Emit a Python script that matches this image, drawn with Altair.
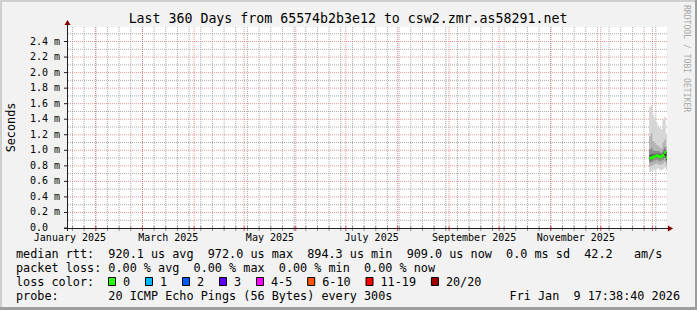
import altair as alt
import pandas as pd

# ---------------- data ----------------
TITLE = "Last 360 Days from 65574b2b3e12 to csw2.zmr.as58291.net"
START = "2025-01-14T17:38:40"
END = "2026-01-09T17:38:40"
Y_TOP = 2.587

Y_TICKS = [0.0, 0.2, 0.4, 0.6, 0.8, 1.0, 1.2, 1.4, 1.6, 1.8, 2.0, 2.2, 2.4]
Y_LABELS = ["0.0", "0.2 m", "0.4 m", "0.6 m", "0.8 m", "1.0 m", "1.2 m", "1.4 m",
            "1.6 m", "1.8 m", "2.0 m", "2.2 m", "2.4 m"]
Y_MINOR = [0.1, 0.3, 0.5, 0.7, 0.9, 1.1, 1.3, 1.5, 1.7, 1.9, 2.1, 2.3, 2.5]

MONTH_LABELS = ["January 2025", "March 2025", "May 2025", "July 2025",
                "September 2025", "November 2025"]
MONTH_LABEL_AT = ["2025-01-16T12:00:00", "2025-03-16T12:00:00", "2025-05-16T12:00:00",
                  "2025-07-16T12:00:00", "2025-09-16T00:00:00", "2025-11-16T00:00:00"]
MONTH_LINES = [d.strftime("%Y-%m-%dT00:00:00")
               for d in pd.date_range("2025-02-01", "2026-01-01", freq="MS")]
WEEK_LINES = [d.strftime("%Y-%m-%dT00:00:00")
              for d in pd.date_range("2025-01-18", "2026-01-09", freq="7D")]

SAMPLE_START = ["2025-12-30T00:00:00", "2025-12-31T00:00:00", "2026-01-01T00:00:00",
                "2026-01-02T00:00:00", "2026-01-03T00:00:00", "2026-01-04T00:00:00",
                "2026-01-05T00:00:00", "2026-01-06T00:00:00", "2026-01-07T00:00:00",
                "2026-01-08T00:00:00", "2026-01-09T00:00:00"]
# ping rtt in ms (axis unit "m")
RTT_MAX = [1.56, 1.58, 1.45, 1.42, 1.36, 1.32, 1.29, 1.27, 1.40, 1.43, 1.22]
RTT_P90 = [1.18, 1.22, 1.12, 1.10, 1.07, 1.06, 1.04, 1.02, 1.10, 1.14, 1.05]
RTT_P75 = [1.01, 1.03, 1.00, 0.99, 0.99, 0.99, 0.98, 0.97, 1.01, 1.04, 0.98]
RTT_P60 = [0.94, 0.95, 0.95, 0.95, 0.96, 0.96, 0.95, 0.95, 0.97, 1.00, 0.94]
RTT_MED = [0.898, 0.905, 0.912, 0.920, 0.931, 0.925, 0.916, 0.922, 0.938, 0.972, 0.909]
RTT_P40 = [0.87, 0.88, 0.89, 0.90, 0.91, 0.90, 0.89, 0.90, 0.91, 0.94, 0.88]
RTT_P25 = [0.84, 0.85, 0.86, 0.87, 0.88, 0.87, 0.86, 0.87, 0.88, 0.90, 0.85]
RTT_P10 = [0.79, 0.80, 0.81, 0.82, 0.83, 0.82, 0.81, 0.82, 0.83, 0.85, 0.80]
RTT_MIN = [0.72, 0.73, 0.75, 0.74, 0.76, 0.77, 0.75, 0.74, 0.76, 0.78, 0.74]

LOSS_LABELS = ["0", "1", "2", "3", "4-5", "6-10", "11-19", "20/20"]
LOSS_COLORS = ["#26ff00", "#00b8ff", "#0059ff", "#5e00ff", "#ff00ff", "#ff5500", "#ff0000", "#a00000"]

LINE_RTT = "median rtt:  920.1 us avg  972.0 us max  894.3 us min  909.0 us now  0.0 ms sd  42.2   am/s"
LINE_LOSS = "packet loss: 0.00 % avg  0.00 % max  0.00 % min  0.00 % now"
LINE_COLOR = "loss color:"
LINE_PROBE = "probe:       20 ICMP Echo Pings (56 Bytes) every 300s"
STAMP = "Fri Jan  9 17:38:40 2026"
Y_TITLE = "Seconds"
WATERMARK = "RRDTOOL / TOBI OETIKER"

# ---------------- layout / style ----------------
MONO = "DejaVu Sans Mono"
W, H = 600, 201
PL, PT = 67, 27          # plot origin on the 697x310 canvas
GRID = "#8f8f8f"
MGRID = "#de5050"
AXIS = "#202020"
ARROW = "#800000"
CW = 7.1                 # legend char width
SW = 0.02                # half-height of loss-coloured median band


def dt(s):
    ts = pd.Timestamp(s)
    return alt.DateTime(year=ts.year, month=ts.month, date=ts.day,
                        hours=ts.hour, minutes=ts.minute, seconds=ts.second)


def nb(s):
    return s.replace(" ", "\u00a0")


x_scale = alt.Scale(domain=[dt(START), dt(END)])
y_scale = alt.Scale(domain=[0, Y_TOP], nice=False, zero=False)


def X(f):
    return alt.X(f, type="temporal", scale=x_scale, axis=None)


def Y(f):
    return alt.Y(f, type="quantitative", scale=y_scale, axis=None)


ONE = pd.DataFrame({"k": [0]})
layers = []

# vertical grid: weeks (grey) then months (red)
vgrid = pd.DataFrame({
    "t": WEEK_LINES + MONTH_LINES,
    "c": [GRID] * len(WEEK_LINES) + [MGRID] * len(MONTH_LINES),
    "o": [0.75] * len(WEEK_LINES) + [0.6] * len(MONTH_LINES),
    "ord": [0] * len(WEEK_LINES) + [1] * len(MONTH_LINES),
})
hgrid = pd.DataFrame({
    "v": Y_MINOR + Y_TICKS[1:],
    "c": [GRID] * len(Y_MINOR) + [MGRID] * len(Y_TICKS[1:]),
    "o": [0.75] * len(Y_MINOR) + [0.6] * len(Y_TICKS[1:]),
})
layers.append(alt.Chart(hgrid).mark_rule(strokeDash=[1, 1], strokeWidth=1).encode(
    y=Y("v"), color=alt.Color("c:N", scale=None), opacity=alt.Opacity("o:Q", scale=None)))
layers.append(alt.Chart(vgrid).mark_rule(strokeDash=[1, 1], strokeWidth=1).encode(
    x=X("t"), color=alt.Color("c:N", scale=None), opacity=alt.Opacity("o:Q", scale=None),
    order=alt.Order("ord:Q")))
# small ticks under the x axis
layers.append(alt.Chart(vgrid).mark_rule(strokeWidth=1).encode(
    x=X("t"), y=alt.value(H - 2), y2=alt.value(H + 3),
    color=alt.Color("c:N", scale=None), order=alt.Order("ord:Q")))
# small ticks left of the y axis + labels
layers.append(alt.Chart(pd.DataFrame({"v": Y_TICKS})).mark_rule(
    color=AXIS, strokeWidth=1).encode(y=Y("v"), x=alt.value(-3), x2=alt.value(0)))
layers.append(alt.Chart(pd.DataFrame({"v": Y_TICKS, "lab": Y_LABELS})).mark_text(
    font=MONO, fontSize=10, color="black", align="left", baseline="middle").encode(
    y=Y("v"), x=alt.value(30 - PL), text=alt.Text("lab:N")))

# smoke
smoke = pd.DataFrame({
    "t": SAMPLE_START + [END],
    "mx": RTT_MAX + RTT_MAX[-1:], "p90": RTT_P90 + RTT_P90[-1:],
    "p75": RTT_P75 + RTT_P75[-1:], "p60": RTT_P60 + RTT_P60[-1:],
    "med": RTT_MED + RTT_MED[-1:], "p40": RTT_P40 + RTT_P40[-1:],
    "p25": RTT_P25 + RTT_P25[-1:], "p10": RTT_P10 + RTT_P10[-1:],
    "mn": RTT_MIN + RTT_MIN[-1:],
})
for lo, hi, col in [("mn", "mx", "#d6d6d6"), ("p10", "p90", "#b4b4b4"),
                    ("p25", "p75", "#8c8c8c"), ("p40", "p60", "#555555")]:
    layers.append(alt.Chart(smoke).mark_area(
        interpolate="step-after", color=col, opacity=1).encode(
        x=X("t"), y=Y(lo), y2=alt.Y2(hi)))
layers.append(alt.Chart(smoke).mark_line(
    interpolate="step-after", color="#202020", strokeWidth=1).encode(
    x=X("t"), y=Y("med")))
layers.append(alt.Chart(smoke).transform_calculate(
    lo=f"datum.med - {SW}", hi=f"datum.med + {SW}").mark_area(
    interpolate="step-after", color=LOSS_COLORS[0], opacity=1).encode(
    x=X("t"), y=Y("lo"), y2=alt.Y2("hi")))

# axes lines + arrows
layers.append(alt.Chart(ONE).mark_rule(color=AXIS, strokeWidth=1).encode(
    x=alt.value(0.5), y=alt.value(-5), y2=alt.value(H + 3)))
layers.append(alt.Chart(ONE).mark_rule(color=AXIS, strokeWidth=1).encode(
    x=alt.value(-3), x2=alt.value(W + 3), y=alt.value(H + 0.5)))
layers.append(alt.Chart(ONE).mark_point(
    shape="triangle-up", filled=True, color=ARROW, size=36, opacity=1).encode(
    x=alt.value(0.5), y=alt.value(-4.5)))
layers.append(alt.Chart(ONE).mark_point(
    shape="triangle-right", filled=True, color=ARROW, size=36, opacity=1).encode(
    x=alt.value(W + 3.5), y=alt.value(H + 0.5)))

# x labels
layers.append(alt.Chart(pd.DataFrame({"t": MONTH_LABEL_AT, "lab": MONTH_LABELS})).mark_text(
    font=MONO, fontSize=10, color="black", align="center", baseline="middle").encode(
    x=X("t"), y=alt.value(238 - PT), text="lab:N"))

# canvas shading border
layers.append(alt.Chart(ONE).mark_rule(color="#cfcfcf", strokeWidth=2).encode(
    x=alt.value(-PL), x2=alt.value(697 - PL), y=alt.value(1 - PT)))
layers.append(alt.Chart(ONE).mark_rule(color="#cfcfcf", strokeWidth=2).encode(
    x=alt.value(1 - PL), y=alt.value(-PT), y2=alt.value(310 - PT)))
layers.append(alt.Chart(ONE).mark_rule(color="#9e9e9e", strokeWidth=3).encode(
    x=alt.value(-PL), x2=alt.value(697 - PL), y=alt.value(308.5 - PT)))
layers.append(alt.Chart(ONE).mark_rule(color="#9e9e9e", strokeWidth=2).encode(
    x=alt.value(696 - PL), y=alt.value(-PT), y2=alt.value(310 - PT)))


# texts
def text_layer(txt, x, y, size, align="left", angle=0, color="black"):
    return alt.Chart(ONE).mark_text(
        text=nb(txt), font=MONO, fontSize=size, color=color, align=align,
        baseline="middle", angle=angle).encode(x=alt.value(x - PL), y=alt.value(y - PT))


layers.append(text_layer(TITLE, 348, 19, 13.26, align="center"))
layers.append(text_layer(Y_TITLE, 11, 127.5, 11.8, align="center", angle=270))
layers.append(text_layer(WATERMARK, 686, 5, 8.1, align="left", angle=90, color="#a8a8a8"))
layers.append(text_layer(LINE_RTT, 16, 254, 11.8))
layers.append(text_layer(LINE_LOSS, 16, 268, 11.8))
layers.append(text_layer(LINE_COLOR, 16, 282, 11.8))
layers.append(text_layer(LINE_PROBE, 16, 296, 11.8))
layers.append(text_layer(STAMP, 680, 296, 11.8, align="right"))

# loss colour legend boxes
left = 108.0
for lab, col in zip(LOSS_LABELS, LOSS_COLORS):
    layers.append(alt.Chart(ONE).mark_rect(
        color=col, stroke="black", strokeWidth=1, opacity=1).encode(
        x=alt.value(left + 0.5 - PL), x2=alt.value(left + 7.5 - PL),
        y=alt.value(277.5 - PT), y2=alt.value(285.5 - PT)))
    layers.append(text_layer(lab, left + 15, 282, 11.8))
    left += 29.9 + len(lab) * CW

chart = alt.layer(*layers).properties(
    width=W, height=H,
    padding={"left": PL, "top": PT, "right": 697 - PL - W, "bottom": 310 - PT - H},
    autosize=alt.AutoSizeParams(type="none"),
).configure(background="#f2f2f2").configure_view(fill="white", stroke=None)

chart.save("out.html", embed_options={"renderer": "svg", "actions": False})
